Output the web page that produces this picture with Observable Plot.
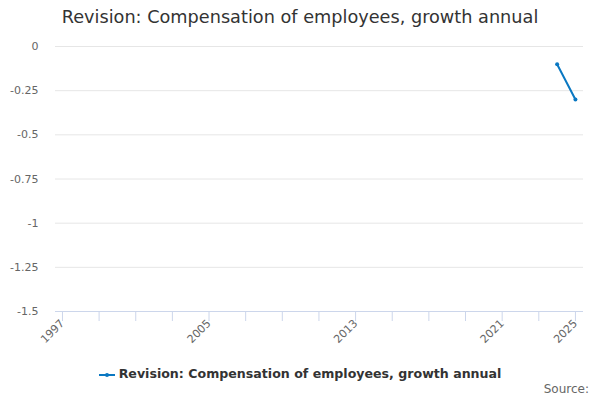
<!DOCTYPE html>
<html>
<head>
<meta charset="utf-8">
<script src="https://cdn.jsdelivr.net/npm/d3@7"></script>
<script src="https://cdn.jsdelivr.net/npm/@observablehq/plot@0.6"></script>
<style>
  body { margin: 0; background: #fff; font-family: "DejaVu Sans", sans-serif; }
  #wrap { position: relative; width: 600px; height: 400px; overflow: hidden; }
  #title { position: absolute; left: 0; top: 7px; width: 600px; text-align: center; font-size: 17.7px; color: #333; white-space: nowrap; }
  #chart { position: absolute; left: 0; top: 36px; }
  #legend { position: absolute; left: 0; top: 366px; width: 600px; text-align: center; font-size: 12.6px; font-weight: bold; color: #333; white-space: nowrap; }
  #legend svg { vertical-align: middle; margin-right: 4px; }
  #source { position: absolute; right: 11px; top: 382px; font-size: 12px; color: #666; }
</style>
</head>
<body>
<div id="wrap">
  <div id="title"></div>
  <div id="chart"></div>
  <div id="legend"></div>
  <div id="source">Source:</div>
</div>
<script>
const titleText = "Revision: Compensation of employees, growth annual";
const seriesName = "Revision: Compensation of employees, growth annual";
const years = [2024, 2025];
const values = [-0.1, -0.3];
const yTicks = [0, -0.25, -0.5, -0.75, -1, -1.25, -1.5];
const xTicks = [1997, 1999, 2001, 2003, 2005, 2007, 2009, 2011, 2013, 2015, 2017, 2019, 2021, 2023, 2025];
const xLabels = [1997, 2005, 2013, 2021, 2025];
const lineColor = "#0a78c2";

document.getElementById("title").textContent = titleText;

const data = years.map((y, i) => ({year: y, value: values[i]}));

const chart = Plot.plot({
  width: 600,
  height: 320,
  marginTop: 10,
  marginBottom: 45,
  marginLeft: 55,
  marginRight: 17,
  style: {fontFamily: "DejaVu Sans, sans-serif", fontSize: "11px", color: "#666", background: "#fff"},
  x: {domain: [1996.62, 2025.44]},
  y: {domain: [-1.5, 0]},
  marks: [
    Plot.ruleY(yTicks.filter(d => d !== -1.5), {stroke: "#e6e6e6", strokeWidth: 1}),
    Plot.axisY({ticks: yTicks, tickSize: 0, tickPadding: 17, tickFormat: d => String(d), label: null, fill: "#666", fontSize: 11}),
    Plot.ruleY([-1.5], {stroke: "#ccd6eb", strokeWidth: 1}),
    Plot.axisX({ticks: xTicks, tickSize: 10, tickFormat: () => "", stroke: "#ccd6eb", label: null}),
    Plot.axisX({ticks: xLabels, tickSize: 0, tickPadding: 10, tickRotate: -45, tickFormat: d => String(d), label: null, fill: "#666", fontSize: 11}),
    Plot.line(data, {x: "year", y: "value", stroke: lineColor, strokeWidth: 2}),
    Plot.dot(data, {x: "year", y: "value", fill: lineColor, r: 2})
  ]
});
document.getElementById("chart").appendChild(chart);

const legend = document.getElementById("legend");
legend.innerHTML = `<svg width="16" height="10"><line x1="0" y1="5" x2="16" y2="5" stroke="${lineColor}" stroke-width="2"/><circle cx="8" cy="5" r="2" fill="${lineColor}"/></svg>`;
legend.appendChild(document.createTextNode(seriesName));
</script>
</body>
</html>
